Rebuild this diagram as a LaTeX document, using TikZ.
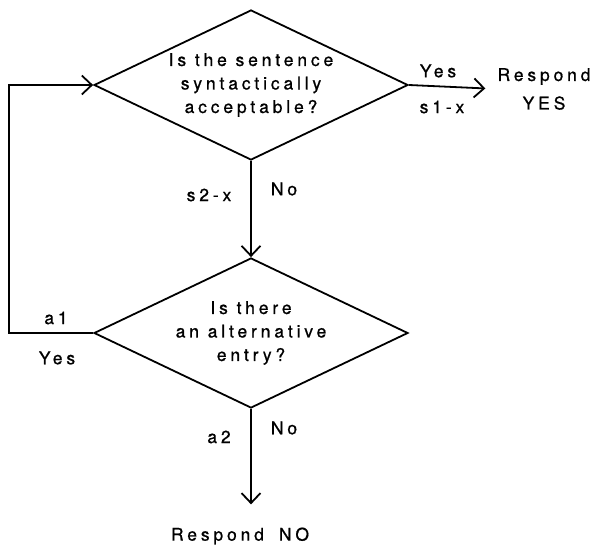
\documentclass[tikz,border=0pt]{standalone}
\usepackage{fontspec}
\setmainfont{TeX Gyre Heros}[LetterSpace=22, FakeBold=0.8]
\usetikzlibrary{shapes.geometric,arrows.meta}

\tikzset{
  question/.style={draw, diamond, line width=1.8pt, aspect=2.2, inner sep=0pt,
    minimum width=314pt, minimum height=150pt, align=center},
  flow/.style={line width=1.8pt, -{Straight Barb[length=10pt,width=19pt]}},
  lbl/.style={inner sep=0pt},
}

\begin{document}
\begin{tikzpicture}[x=1pt, y=-1pt, font=\fontsize{17.5}{23.5}\selectfont]
  \useasboundingbox (0,0) rectangle (593,548);

  \node[question] (q1) at (251,85) {Is the sentence\\syntactically\\acceptable?};
  \node[question] (q2) at (251,333) {Is there\\an alternative\\entry?};

  \node[lbl, align=center] (yes) at (544,89) {Respond\\[5pt]YES};
  \node[lbl] (no) at (240,536) {Respond\hspace{15pt}NO};

  \draw[flow] (q1.east) -- (yes.west) [shorten >=12pt];
  \draw[flow] (q1.south) -- (q2.north);
  \draw[flow] (q2.south) -- (q2.south |- no.north) [shorten >=23pt];
  \draw[flow] (q2.west) -- ++(-84,0) |- (q1.west);

  \node[lbl] (lyes1) at (438,71) {Yes};
  \node[lbl] (ls1x) at (442,107) {s1-x};
  \node[lbl] (ls2x) at (209,195) {s2-x};
  \node[lbl] (lno1) at (284,189) {No};
  \node[lbl] (la1) at (56,318) {a1};
  \node[lbl] (lyes2) at (57,358) {Yes};
  \node[lbl] (la2) at (219,437) {a2};
  \node[lbl] (lno2) at (284,428) {No};
\end{tikzpicture}
\end{document}
